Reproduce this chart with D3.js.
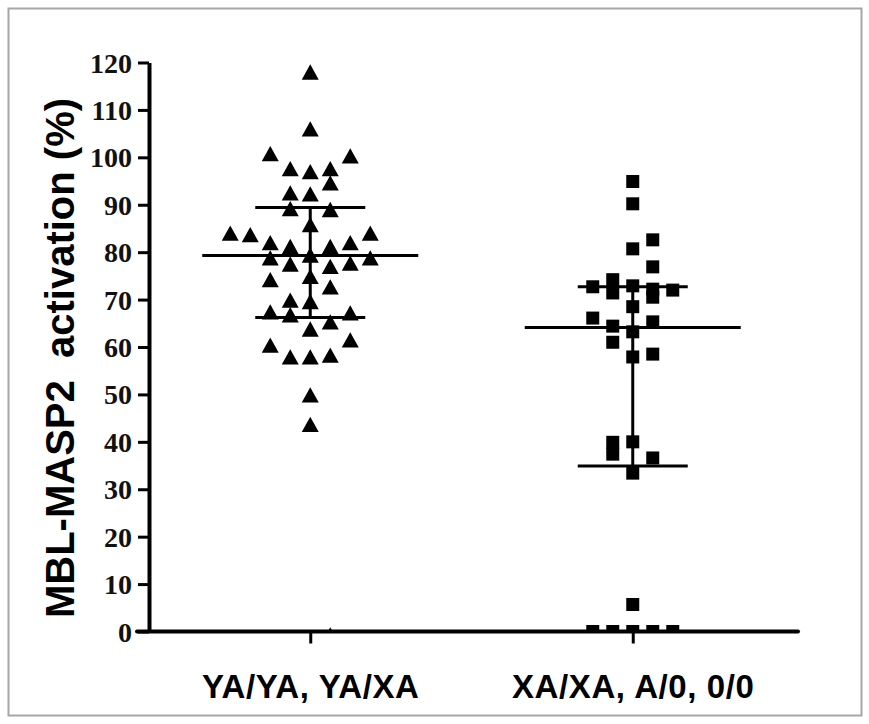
<!DOCTYPE html>
<html>
<head>
<meta charset="utf-8">
<script src="https://cdn.jsdelivr.net/npm/d3@7"></script>
<style>
  body { margin: 0; background: #fff; }
</style>
</head>
<body>
<div id="chart"></div>
<script>

var groups = ["YA/YA, YA/XA", "XA/XA, A/0, 0/0"];
var yTicks = [0, 10, 20, 30, 40, 50, 60, 70, 80, 90, 100, 110, 120];
var yLabel = "MBL-MASP2\u00a0 activation (%)";

// group 1 (triangles): value and jitter column
var yaValues = [118, 106, 100.8, 100.3, 97.6, 97, 97.6, 94.6, 92.5, 92.3, 89.2, 89, 85.8,
    84, 83.7, 84, 82, 81.2, 81.2, 82, 78.8, 77.5, 79.4, 77, 77.7, 78.8,
    74.2, 74.9, 72.7, 69.9, 69.6, 67.4, 66.8, 65.3, 67.2, 63.8,
    60.4, 61.5, 57.9, 57.9, 58.3, 49.9, 43.7, -0.7];
var yaSlots = [0, 0, -2, 2, -1, 0, 1, 1, -1, 0, -1, 1, 0,
    -4, -3, 3, -2, -1, 1, 2, -2, -1, 0, 1, 2, 3,
    -2, 0, 1, -1, 0, -2, -1, 1, 2, 0,
    -2, 2, -1, 0, 1, 0, 0, 1];

// group 2 (squares)
var xaValues = [94.9, 90.2, 82.6, 80.7, 76.9, 72.7, 74.2, 71.4, 72.9, 72.2, 70.5, 72,
    68.5, 66.1, 64.4, 61, 63.2, 65.3, 57.9, 58.5,
    39.9, 37.4, 40, 36.6, 33.4, 5.7, 0, 0, 0, 0, 0];
var xaSlots = [0, 0, 1, 0, 1, -2, -1, -1, 0, 1, 1, 2,
    0, -2, -1, -1, 0, 1, 0, 1,
    -1, -1, 0, 1, 0, 0, -2, -1, 0, 1, 2];

var means = [79.3, 64.1];
var upperBars = [89.4, 72.7];
var lowerBars = [66.2, 34.9];

var width = 869, height = 724;

var svg = d3.select("#chart").append("svg")
    .attr("width", width).attr("height", height);

svg.append("rect")
    .attr("x", 8.5).attr("y", 8.5)
    .attr("width", 853).attr("height", 707)
    .attr("fill", "#fff").attr("stroke", "#a6a6a6").attr("stroke-width", 2);

var x = d3.scalePoint().domain(groups).range([149, 794]).padding(0.5);
var y = d3.scaleLinear().domain([0, 120]).range([631.5, 62.5]);
var jitter = d3.scaleLinear().domain([0, 1]).range([0, 20]);

// y axis
var yAxis = svg.append("g")
    .attr("transform", "translate(149,0)")
    .call(d3.axisLeft(y).tickValues(yTicks).tickSize(11).tickSizeOuter(0).tickPadding(6));
yAxis.select(".domain").attr("stroke-width", 4);
yAxis.selectAll(".tick line").attr("stroke-width", 3);
yAxis.selectAll(".tick text")
    .attr("font-family", "'Liberation Serif', 'Times New Roman', serif")
    .attr("font-weight", "bold")
    .attr("font-size", 28)
    .attr("fill", "#111")
    .attr("dy", "0.34em");

// x axis
var xAxis = svg.append("g")
    .attr("transform", "translate(0," + y(0) + ")")
    .call(d3.axisBottom(x).tickSize(12).tickSizeOuter(0));
xAxis.select(".domain").remove();
xAxis.selectAll(".tick line").attr("stroke-width", 3);
xAxis.selectAll(".tick text")
    .attr("font-family", "'Liberation Sans', Arial, sans-serif")
    .attr("font-weight", "bold")
    .attr("font-size", 33)
    .attr("letter-spacing", 0.6)
    .attr("fill", "#000")
    .attr("y", 698 - y(0))
    .attr("dy", 0);
svg.append("line")
    .attr("x1", 137).attr("x2", 798)
    .attr("y1", y(0)).attr("y2", y(0))
    .attr("stroke", "#000").attr("stroke-width", 4).attr("stroke-linecap", "round");

// y label
svg.append("text")
    .attr("transform", "translate(74," + 358 + ") rotate(-90)")
    .attr("text-anchor", "middle")
    .attr("font-family", "'Liberation Sans', Arial, sans-serif")
    .attr("font-weight", "bold")
    .attr("font-size", 40)
    .attr("fill", "#000")
    .text(yLabel);

// clip points at the x axis
svg.append("clipPath").attr("id", "plotClip")
    .append("rect").attr("x", 0).attr("y", 0).attr("width", width).attr("height", y(0));

var plot = svg.append("g").attr("clip-path", "url(#plotClip)");

// summary lines: mean and error bars
var summary = groups.map(function (g, i) {
    return {group: g, mean: means[i], hi: upperBars[i], lo: lowerBars[i]};
});
summary.forEach(function (d) {
    var cx = x(d.group);
    plot.append("line")
        .attr("x1", cx - 108).attr("x2", cx + 108)
        .attr("y1", y(d.mean)).attr("y2", y(d.mean))
        .attr("stroke", "#000").attr("stroke-width", 3);
    plot.append("line")
        .attr("x1", cx).attr("x2", cx)
        .attr("y1", y(d.hi)).attr("y2", y(d.lo))
        .attr("stroke", "#000").attr("stroke-width", 3);
    [d.hi, d.lo].forEach(function (v) {
        plot.append("line")
            .attr("x1", cx - 55).attr("x2", cx + 55)
            .attr("y1", y(v)).attr("y2", y(v))
            .attr("stroke", "#000").attr("stroke-width", 3);
    });
});

// triangle centred on its bounding box
var triangleBox = {
    draw: function (ctx, size) {
        var w = Math.sqrt(size);
        var h = w * 0.9;
        ctx.moveTo(0, -h / 2);
        ctx.lineTo(w / 2, h / 2);
        ctx.lineTo(-w / 2, h / 2);
        ctx.closePath();
    }
};

var yaData = yaValues.map(function (v, i) { return {value: v, slot: yaSlots[i]}; });
var xaData = xaValues.map(function (v, i) { return {value: v, slot: xaSlots[i]}; });

plot.selectAll(".tri").data(yaData).enter().append("path")
    .attr("class", "tri")
    .attr("d", d3.symbol().type(triangleBox).size(289))
    .attr("transform", function (d) {
        return "translate(" + (x(groups[0]) + jitter(d.slot)) + "," + y(d.value) + ")";
    })
    .attr("fill", "#000");

plot.selectAll(".sq").data(xaData).enter().append("path")
    .attr("class", "sq")
    .attr("d", d3.symbol().type(d3.symbolSquare).size(169))
    .attr("transform", function (d) {
        return "translate(" + (x(groups[1]) + jitter(d.slot)) + "," + y(d.value) + ")";
    })
    .attr("fill", "#000");

</script>
</body>
</html>
